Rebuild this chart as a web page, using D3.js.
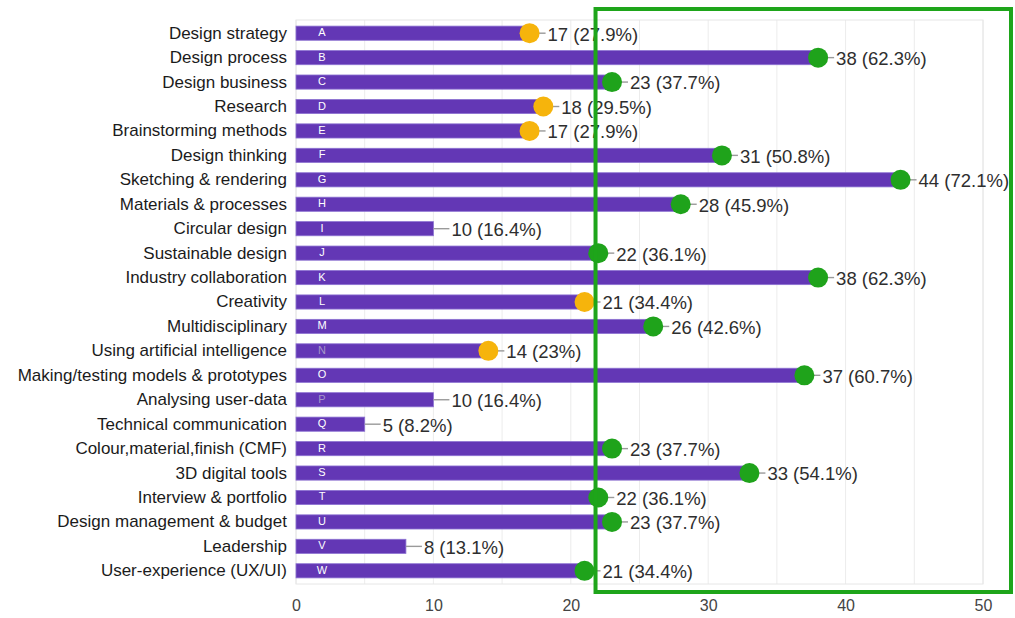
<!DOCTYPE html>
<html>
<head>
<meta charset="utf-8">
<script src="https://cdn.jsdelivr.net/npm/d3@7"></script>
<style>
  html, body { margin: 0; padding: 0; background: #fff; }
  svg { display: block; font-family: "Liberation Sans", Arial, Helvetica, sans-serif; }
</style>
</head>
<body>
<svg id="chart" width="1015" height="618"></svg>
<script>
// Survey responses per topic (count and share of 61 respondents)
const categories = [
  "Design strategy", "Design process", "Design business", "Research",
  "Brainstorming methods", "Design thinking", "Sketching & rendering",
  "Materials & processes", "Circular design", "Sustainable design",
  "Industry collaboration", "Creativity", "Multidisciplinary",
  "Using artificial intelligence", "Making/testing models & prototypes",
  "Analysing user-data", "Technical communication",
  "Colour,material,finish (CMF)", "3D digital tools", "Interview & portfolio",
  "Design management & budget", "Leadership", "User-experience (UX/UI)"
];
const letters = ["A","B","C","D","E","F","G","H","I","J","K","L","M","N","O","P","Q","R","S","T","U","V","W"];
const counts = [17, 38, 23, 18, 17, 31, 44, 28, 10, 22, 38, 21, 26, 14, 37, 10, 5, 23, 33, 22, 23, 8, 21];
const percents = ["27.9", "62.3", "37.7", "29.5", "27.9", "50.8", "72.1", "45.9", "16.4", "36.1",
  "62.3", "34.4", "42.6", "23", "60.7", "16.4", "8.2", "37.7", "54.1", "36.1", "37.7", "13.1", "34.4"];
// Highlight marker on each bar: "high" (green), "mid" (orange) or none
const markers = ["mid","high","high","mid","mid","high","high","high",null,"high",
  "high","mid","high","mid","high",null,null,"high","high","high","high",null,"high"];
const mutedLetters = ["N", "P"];
const xTicks = [0, 10, 20, 30, 40, 50];
const xGrid = [0, 5, 10, 15, 20, 25, 30, 35, 40, 45, 50];
// Threshold box highlighting the upper range of the scale
const boxStart = 21.8;

const svg = d3.select("#chart");
const margin = { left: 296, right: 32, top: 20, bottom: 34 };
const W = 1015, H = 618;

const x = d3.scaleLinear().domain([0, 50]).range([margin.left, W - margin.right]);
const y = d3.scaleBand().domain(categories).range([margin.top, H - margin.bottom]).paddingInner(0.42).paddingOuter(0.25);

const markerColor = { high: "#1fa31b", mid: "#f6b40c" };

// plot frame and gridlines
svg.append("g").selectAll("line").data(xGrid).join("line")
  .attr("x1", d => x(d)).attr("x2", d => x(d))
  .attr("y1", margin.top).attr("y2", H - margin.bottom)
  .attr("stroke", "#ececec").attr("stroke-width", 1);
svg.append("rect")
  .attr("x", x(0)).attr("y", margin.top)
  .attr("width", x(50) - x(0)).attr("height", H - margin.bottom - margin.top)
  .attr("fill", "none").attr("stroke", "#e6e6e6");

// x-axis tick labels
const xAxis = d3.axisBottom(x).tickValues(xTicks).tickSize(0).tickPadding(16);
const gx = svg.append("g").attr("transform", `translate(0,${H - margin.bottom})`).call(xAxis);
gx.select(".domain").remove();
gx.selectAll("text").attr("font-size", 16).attr("fill", "#444")
  .attr("font-family", "'Liberation Sans', Arial, sans-serif");

// category labels
const yAxis = d3.axisLeft(y).tickSize(0).tickPadding(9);
const gy = svg.append("g").attr("transform", `translate(${margin.left},0)`).call(yAxis);
gy.select(".domain").remove();
gy.selectAll("text").attr("font-size", 17).attr("fill", "#1b1b1b")
  .attr("font-family", "'Liberation Sans', Arial, sans-serif");

const rows = categories.map((c, i) => ({
  cat: c, letter: letters[i], v: counts[i], pct: percents[i], marker: markers[i]
}));

// bars
svg.append("g").selectAll("rect").data(rows).join("rect")
  .attr("x", x(0)).attr("y", d => y(d.cat))
  .attr("width", d => x(d.v) - x(0)).attr("height", y.bandwidth())
  .attr("fill", "#6337b5").attr("stroke", "#8d73d2").attr("stroke-width", 0.8);

// letters inside bars
svg.append("g").selectAll("text").data(rows).join("text")
  .attr("x", x(0) + 26).attr("y", d => y(d.cat) + y.bandwidth() / 2 - 1)
  .attr("text-anchor", "middle").attr("dominant-baseline", "central")
  .attr("font-size", 11).attr("font-weight", 500)
  .attr("fill", d => mutedLetters.includes(d.letter) ? "#a496c8" : "#ffffff")
  .text(d => d.letter);

// connector lines to value labels
svg.append("g").selectAll("line").data(rows).join("line")
  .attr("x1", d => x(d.v)).attr("x2", d => x(d.v) + 16)
  .attr("y1", d => y(d.cat) + y.bandwidth() / 2)
  .attr("y2", d => y(d.cat) + y.bandwidth() / 2)
  .attr("stroke", "#9a9a9a").attr("stroke-width", 1.4);

// markers
svg.append("g").selectAll("circle").data(rows.filter(d => d.marker)).join("circle")
  .attr("cx", d => x(d.v)).attr("cy", d => y(d.cat) + y.bandwidth() / 2)
  .attr("r", 10).attr("fill", d => markerColor[d.marker]);

// value labels
svg.append("g").selectAll("text").data(rows).join("text")
  .attr("x", d => x(d.v) + 18).attr("y", d => y(d.cat) + y.bandwidth() / 2)
  .attr("dominant-baseline", "central").attr("dy", "0.05em")
  .attr("font-size", 18.5).attr("fill", "#2e2e2e")
  .text(d => `${d.v} (${d.pct}%)`);

// threshold box
svg.append("rect")
  .attr("x", x(boxStart)).attr("y", 9)
  .attr("width", W - 4 - x(boxStart)).attr("height", 583)
  .attr("fill", "none").attr("stroke", "#1ea51a").attr("stroke-width", 4);
</script>
</body>
</html>
